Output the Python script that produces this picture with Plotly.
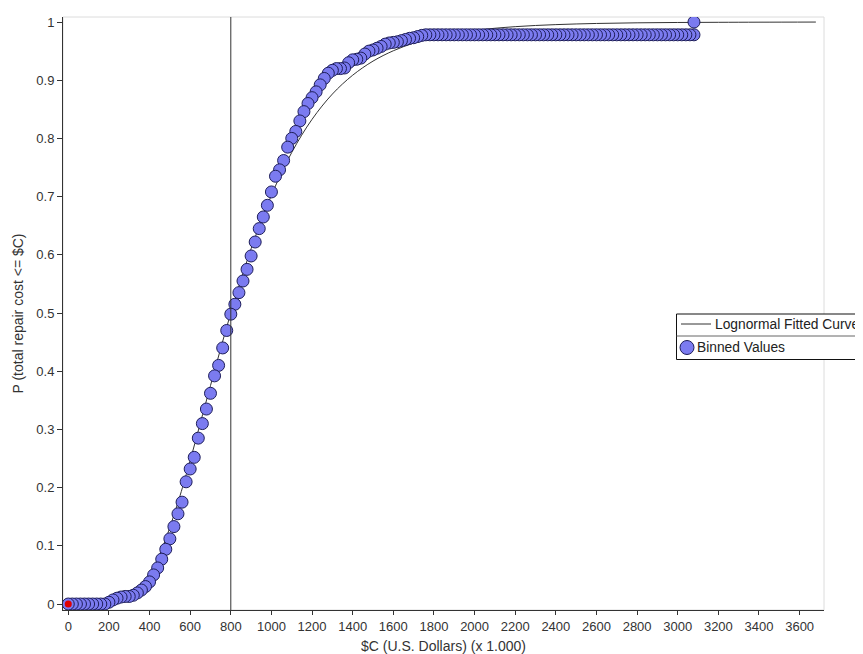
import plotly.graph_objects as go

# ---------------- data ----------------
cost = [0, 20, 40, 60, 80, 100, 120, 140, 160, 180,
        200, 220, 240, 260, 280, 300, 320, 340, 360, 380,
        400, 420, 440, 460, 480, 500, 520, 540, 560, 580,
        600, 620, 640, 660, 680, 700, 720, 740, 760, 780,
        800, 820, 840, 860, 880, 900, 920, 940, 960, 980,
        1000, 1020, 1040, 1060, 1080, 1100, 1120, 1140, 1160, 1180,
        1200, 1220, 1240, 1260, 1280, 1300, 1320, 1340, 1360, 1380,
        1400, 1420, 1440, 1460, 1480, 1500, 1520, 1540, 1560, 1580,
        1600, 1620, 1640, 1660, 1680, 1700, 1720, 1740, 1760, 1780,
        1800, 1820, 1840, 1860, 1880, 1900, 1920, 1940, 1960, 1980,
        2000, 2020, 2040, 2060, 2080, 2100, 2120, 2140, 2160, 2180,
        2200, 2220, 2240, 2260, 2280, 2300, 2320, 2340, 2360, 2380,
        2400, 2420, 2440, 2460, 2480, 2500, 2520, 2540, 2560, 2580,
        2600, 2620, 2640, 2660, 2680, 2700, 2720, 2740, 2760, 2780,
        2800, 2820, 2840, 2860, 2880, 2900, 2920, 2940, 2960, 2980,
        3000, 3020, 3040, 3060, 3080, 3080]

prob = [0, 0, 0, 0, 0, 0, 0, 0, 0, 0,
        0.003, 0.007, 0.010, 0.012, 0.013, 0.013, 0.015, 0.019, 0.024, 0.030,
        0.038, 0.050, 0.062, 0.077, 0.094, 0.112, 0.133, 0.155, 0.175, 0.210,
        0.232, 0.252, 0.285, 0.310, 0.335, 0.362, 0.392, 0.410, 0.440, 0.470,
        0.498, 0.515, 0.535, 0.555, 0.575, 0.598, 0.622, 0.645, 0.665, 0.685,
        0.708, 0.735, 0.746, 0.762, 0.785, 0.800, 0.812, 0.830, 0.846, 0.860,
        0.870, 0.880, 0.892, 0.903, 0.912, 0.917, 0.920, 0.920, 0.921, 0.930,
        0.935, 0.936, 0.938, 0.945, 0.950, 0.952, 0.955, 0.958, 0.962, 0.964,
        0.965, 0.966, 0.968, 0.970, 0.972, 0.973, 0.975, 0.977, 0.978, 0.978,
        0.978, 0.978, 0.978, 0.978, 0.978, 0.978, 0.978, 0.978, 0.978, 0.978,
        0.978, 0.978, 0.978, 0.978, 0.978, 0.978, 0.978, 0.978, 0.978, 0.978,
        0.978, 0.978, 0.978, 0.978, 0.978, 0.978, 0.978, 0.978, 0.978, 0.978,
        0.978, 0.978, 0.978, 0.978, 0.978, 0.978, 0.978, 0.978, 0.978, 0.978,
        0.978, 0.978, 0.978, 0.978, 0.978, 0.978, 0.978, 0.978, 0.978, 0.978,
        0.978, 0.978, 0.978, 0.978, 0.978, 0.978, 0.978, 0.978, 0.978, 0.978,
        0.978, 0.978, 0.978, 0.978, 0.978, 1.0]

fit_cost = [0, 100, 150, 200, 250, 300, 350, 400, 450, 500, 550, 600, 700, 800,
            900, 1000, 1100, 1200, 1300, 1400, 1500, 1600, 1700, 1800, 2000,
            2200, 2400, 2600, 2800, 3000, 3200, 3400, 3680]
fit_prob = [0, 0, 0.00003, 0.0005, 0.0028, 0.0098, 0.0245, 0.0495, 0.0853, 0.1316,
            0.186, 0.2467, 0.3753, 0.5, 0.6104, 0.7024, 0.7759, 0.8328, 0.8762,
            0.9086, 0.9328, 0.9506, 0.9637, 0.9732, 0.9854, 0.9920, 0.9955,
            0.9975, 0.9986, 0.9992, 0.9995, 0.9997, 0.9999]

sel_cost = [0]
sel_prob = [0]

threshold = 800

x_ticks = [0, 200, 400, 600, 800, 1000, 1200, 1400, 1600, 1800, 2000,
           2200, 2400, 2600, 2800, 3000, 3200, 3400, 3600]
y_ticks = [0, 0.1, 0.2, 0.3, 0.4, 0.5, 0.6, 0.7, 0.8, 0.9, 1]
y_labels = ["0", "0.1", "0.2", "0.3", "0.4", "0.5", "0.6", "0.7", "0.8", "0.9", "1"]

# ---------------- figure ----------------
FONT = "Liberation Sans, Arial, sans-serif"
FILL = "#7b7bf0"
EDGE = "#1e1e5a"
TICK_SIZE = 13
TITLE_SIZE = 14

# page body adds an 8px margin; size the figure so it fills the window
PAGE_W, PAGE_H, OFF = 863, 654, 8
W, H = PAGE_W - OFF, PAGE_H - OFF
# plot area in page pixels
PL, PR, PT, PB = 63, 824, 17, 610
L, R, T, B = PL - OFF, W - (PR - OFF), PT - OFF, H - (PB - OFF)
pw, ph = W - L - R, H - T - B


def px(xp):
    return (xp - PL) / pw


def py(yp):
    return (PB - yp) / ph


fig = go.Figure()

fig.add_trace(go.Scatter(
    x=fit_cost, y=fit_prob, mode="lines", name="Lognormal Fitted Curve",
    line=dict(color="#333333", width=1, shape="spline"), showlegend=False,
    hoverinfo="skip"))

fig.add_trace(go.Scatter(
    x=cost[::-1], y=prob[::-1], mode="markers", name="Binned Values",
    marker=dict(size=12, color=FILL, line=dict(color=EDGE, width=1)),
    showlegend=False))

fig.add_trace(go.Scatter(
    x=sel_cost, y=sel_prob, mode="markers", showlegend=False,
    marker=dict(size=7, color="#e00000", line=dict(width=0))))

shapes = [
    # light plot border
    dict(type="rect", xref="paper", yref="paper", x0=0, x1=1, y0=0, y1=1,
         line=dict(color="#dcdcdc", width=1), layer="below"),
    # threshold line
    dict(type="line", xref="x", yref="paper", x0=threshold, x1=threshold,
         y0=0, y1=1, line=dict(color="#333333", width=1)),
    # legend box
    dict(type="rect", xref="paper", yref="paper", x0=px(676.5), x1=px(1100),
         y0=py(359.5), y1=py(314), fillcolor="white",
         line=dict(color="#111111", width=1)),
    dict(type="line", xref="paper", yref="paper", x0=px(676.5), x1=px(1100),
         y0=py(336), y1=py(336), line=dict(color="#666666", width=1)),
    dict(type="line", xref="paper", yref="paper", x0=px(681), x1=px(711),
         y0=py(324), y1=py(324), line=dict(color="#333333", width=1)),
    dict(type="circle", xref="paper", yref="paper", xsizemode="pixel",
         ysizemode="pixel", xanchor=px(687), yanchor=py(347.5),
         x0=-7, x1=7, y0=-7, y1=7, fillcolor=FILL,
         line=dict(color=EDGE, width=1)),
]

annotations = [
    dict(text="Lognormal Fitted Curve", xref="paper", yref="paper",
         x=px(713), y=py(324), xanchor="left", yanchor="middle",
         showarrow=False, font=dict(family=FONT, size=13.8, color="#222222")),
    dict(text="Binned Values", xref="paper", yref="paper",
         x=px(695), y=py(347.5), xanchor="left", yanchor="middle",
         showarrow=False, font=dict(family=FONT, size=13.8, color="#222222")),
]

fig.update_layout(
    width=W, height=H,
    margin=dict(l=L, r=R, t=T, b=B, autoexpand=False),
    paper_bgcolor="white", plot_bgcolor="white",
    font=dict(family=FONT, size=TICK_SIZE, color="#333333"),
    showlegend=False,
    shapes=shapes,
    annotations=annotations,
    xaxis=dict(
        range=[-26, 3720], tickvals=x_ticks, ticks="outside", ticklen=4,
        tickcolor="#333333", showline=True, linecolor="#333333", linewidth=1,
        showgrid=False, zeroline=False, automargin=False,
        tickfont=dict(family=FONT, size=TICK_SIZE, color="#333333"),
        title=dict(text="$C (U.S. Dollars) (x 1.000)", standoff=10,
                   font=dict(family=FONT, size=TITLE_SIZE, color="#333333"))),
    yaxis=dict(
        range=[-0.0103, 1.0086], tickvals=y_ticks, ticktext=y_labels,
        ticks="outside", ticklen=5, tickcolor="#333333", showline=True,
        linecolor="#333333", linewidth=1, showgrid=False, zeroline=False,
        automargin=False,
        tickfont=dict(family=FONT, size=TICK_SIZE, color="#333333"),
        title=dict(text="P (total repair cost &lt;= $C)", standoff=9,
                   font=dict(family=FONT, size=TITLE_SIZE, color="#333333"))),
    xaxis2=dict(overlaying="x", matches="x", anchor="y", side="bottom",
                tickvals=x_ticks, ticks="inside", ticklen=4, automargin=False,
                tickcolor="#333333", showticklabels=False, showline=False,
                showgrid=False, zeroline=False),
    yaxis2=dict(overlaying="y", matches="y", anchor="x", side="left",
                tickvals=y_ticks, ticks="inside", ticklen=5, automargin=False,
                tickcolor="#333333", showticklabels=False, showline=False,
                showgrid=False, zeroline=False),
)

fig.write_html("out.html")
